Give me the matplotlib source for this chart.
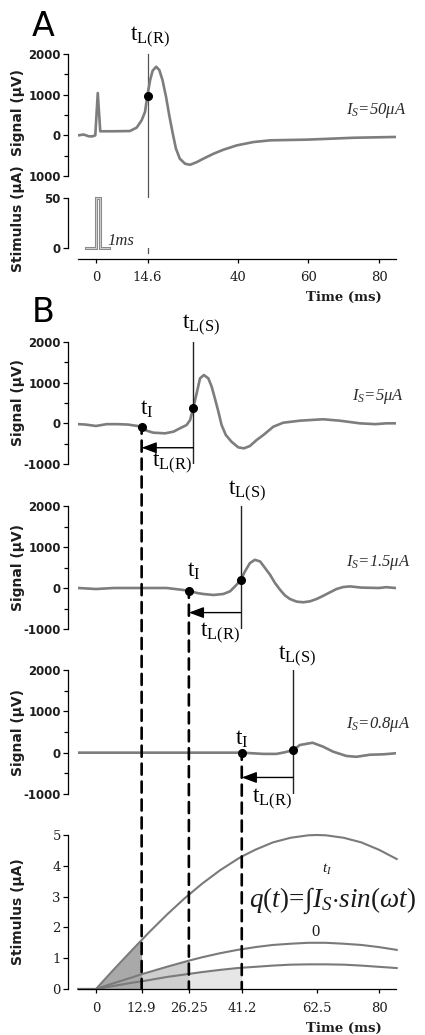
import matplotlib
matplotlib.use('Agg')
import matplotlib.pyplot as plt
from matplotlib.patches import ConnectionPatch
from matplotlib.transforms import blended_transform_factory
from matplotlib.ticker import MultipleLocator

plt.rcParams['mathtext.fontset'] = 'custom'
plt.rcParams['mathtext.rm'] = 'Liberation Serif'
plt.rcParams['mathtext.it'] = 'Liberation Serif:italic'
plt.rcParams['mathtext.bf'] = 'Liberation Serif:bold'

# ------------------------- data -------------------------
# Panel A : response to a 1 ms, 50 uA pulse
A_time = [-5, -3.5, -2, -1, -0.2, 0.5, 1.2, 5, 9.6, 11.5, 12.9, 13.85, 14.5, 15.3, 16, 17,
          17.9, 18.8, 19.8, 20.7, 21.7, 22.6, 23.7, 25.2, 26.6, 28.5, 30.3, 33.2, 36, 39.8,
          44.5, 49.2, 60, 72.7, 84.7]
A_signal = [0, 20, -25, -25, 0, 1040, 100, 100, 106, 190, 370, 575, 963, 1358, 1588, 1687,
            1605, 1358, 946, 494, 42, -329, -576, -700, -724, -658, -576, -453, -354, -247,
            -165, -123, -105, -60, -40]
A_stim_time = [-2.9, 0, 0, 1, 1, 3.7]
A_stim_val = [0, 0, 50, 50, 0, 0]
A_tLR = 14.6
A_dot_val = 963
A_xticks = [0, 14.6, 40, 60, 80]
A_xticklabels = ['0', '14.6', '40', '60', '80']
A_current = '50'

# Panel B : responses to sinusoidal stimuli
B1_time = [-5, -3, 0, 3, 6, 9, 12.9, 14.3, 16.2, 19.5, 21.9, 23.7, 25.6, 26.6, 27.5, 28.45,
           29.4, 30.5, 31.75, 32.7, 33.6, 34.6, 35.5, 36.7, 38.3, 40.2, 41.8, 43.5, 45.4,
           47.3, 50.1, 52.9, 57.6, 64.2, 68.9, 74.6, 79, 82, 84.7]
B1_signal = [-20, -30, -65, -20, -20, -30, -80, -180, -230, -246, -205, -123, -42, 81, 385, 737,
             1106, 1188, 1106, 900, 615, 285, -42, -288, -452, -590, -615, -558, -410,
             -288, -84, 15, 65, 100, 65, 0, -20, 0, 0]
B2_time = [-5, 0, 5, 10, 15, 20, 26.25, 28.5, 30.3, 33.2, 36, 37.9, 39.3, 40.85, 42.1, 43.5,
           44.9, 46.4, 47.8, 49.2, 50.6, 52, 53.4, 54.8, 56.7, 58.6, 60.5, 62.4, 64.3, 66.1,
           68, 69.9, 71.8, 75, 80, 82, 84.7]
B2_signal = [0, -25, 0, 0, 0, 0, -65, -121, -146, -170, -146, -81, 40, 186, 404, 607,
             687, 647, 485, 323, 121, -41, -180, -267, -332, -348, -325, -267, -187, -107,
             -24, 24, 39, 10, 0, 20, 0]
B3_time = [-5, 10, 20, 30, 41.2, 47.3, 51, 53.4, 55.8, 57.6, 61.2, 64.2, 67, 70.8, 73.6, 77.4, 81.2, 84.7]
B3_signal = [0, 0, 0, 0, 0, -30, -30, 10, 65, 185, 240, 145, 25, -80, -100, -50, -40, -15]
B_currents = ['5', '1.5', '0.8']
t_I = [12.9, 26.25, 41.2]
t_LS = [27.5, 40.85, 55.8]
dot_I_val = [-80, -65, 0]
dot_LS_val = [385, 186, 65]
arrow_level = -600

# Bottom : sinusoidal stimulus currents (uA)
stim_time = [-5, 0, 5, 10, 12.9, 15, 20, 25, 26.25, 30, 35, 40, 41.2, 45, 50, 55, 60,
             62.5, 65, 70, 75, 80, 85]
stim_5 = [0, 0, 0.63, 1.24, 1.59, 1.84, 2.41, 2.94, 3.06, 3.42, 3.85, 4.22, 4.30, 4.52,
          4.76, 4.91, 4.99, 5.0, 4.99, 4.91, 4.76, 4.52, 4.22]
stim_1p5 = [0, 0, 0.19, 0.37, 0.48, 0.55, 0.72, 0.88, 0.92, 1.03, 1.16, 1.27, 1.29, 1.36,
            1.43, 1.47, 1.5, 1.5, 1.5, 1.47, 1.43, 1.36, 1.27]
stim_0p8 = [0, 0, 0.10, 0.20, 0.25, 0.29, 0.39, 0.47, 0.49, 0.55, 0.62, 0.68, 0.69, 0.72,
            0.76, 0.79, 0.8, 0.8, 0.8, 0.79, 0.76, 0.72, 0.68]
S_xticks = [0, 12.9, 26.25, 41.2, 62.5, 80]
S_xticklabels = ['0', '12.9', '26.25', '41.2', '62.5', '80']

# ------------------------- layout -------------------------
W, H = 425, 1035
fig = plt.figure(figsize=(W / 100, H / 100), dpi=100)
XL = (-5.09, 84.8)
TRACE = '#7d7d7d'
TXT = '#1e1e1e'


def rect(x0, y0, x1, y1):
    return [x0 / W, 1 - y1 / H, (x1 - x0) / W, (y1 - y0) / H]


def ftext(x, y, s, **kw):
    return fig.text(x / W, 1 - y / H, s, **kw)


def style_left(ax, sans=True, minor=None):
    for s in ['top', 'right']:
        ax.spines[s].set_visible(False)
    ax.spines['left'].set_position(('outward', 7.2))
    ax.spines['left'].set_linewidth(0.9)
    ax.tick_params(axis='y', direction='out', length=3.6, width=0.9, pad=1.5,
                   labelsize=8.5 if sans else 9.5, labelcolor=TXT,
                   labelfontfamily='DejaVu Sans' if sans else 'DejaVu Serif')
    if sans:
        for lab in ax.get_yticklabels():
            lab.set_fontweight('bold')
    if minor:
        ax.yaxis.set_minor_locator(MultipleLocator(minor))
        ax.tick_params(axis='y', which='minor', direction='out', length=3.0, width=0.9)


def style_x(ax, ticks, labels):
    ax.spines['bottom'].set_linewidth(0.9)
    ax.set_xticks(ticks)
    ax.set_xticklabels(labels)
    ax.tick_params(axis='x', direction='out', length=3.0, width=0.9, pad=6,
                   labelsize=9.5, labelcolor=TXT, labelfontfamily='DejaVu Serif')


def hide_x(ax):
    ax.spines['bottom'].set_visible(False)
    ax.set_xticks([])


# ---------------- Panel A ----------------
axA = fig.add_axes(rect(78, 54, 396, 176))
axA.set_xlim(*XL)
axA.set_ylim(-1000, 2000)
axA.set_yticks([2000, 1000, 0, -1000])
axA.set_yticklabels(['2000', '1000', '0', '1000'])
style_left(axA, minor=500)
hide_x(axA)
axA.plot(A_time, A_signal, color=TRACE, lw=1.9, solid_joinstyle='round')
axA.plot([A_tLR], [A_dot_val], 'o', color='black', ms=5.5, zorder=5)

axAs = fig.add_axes(rect(78, 198, 396, 248))
axAs.set_xlim(*XL)
axAs.set_ylim(0, 50)
axAs.set_yticks([0, 50])
style_left(axAs)
axAs.spines['bottom'].set_position(('outward', 7.9))
style_x(axAs, A_xticks, A_xticklabels)
axAs.plot(A_stim_time, A_stim_val, color='#8a8a8a', lw=2.2, solid_joinstyle='miter', clip_on=False)
axAs.plot(A_stim_time, A_stim_val, color='#d0d0d0', lw=0.7, solid_joinstyle='miter', clip_on=False)

# vertical line t_L(R) in A (spans both sub-axes)
trA = blended_transform_factory(axA.transData, fig.transFigure)
axA.plot([A_tLR, A_tLR], [1 - 54 / H, 1 - 253 / H], transform=trA, color='#555555',
         lw=0.9, clip_on=False, zorder=1)

ftext(32, 36, 'A', fontsize=24, family='DejaVu Sans', va='baseline')
ftext(130, 41, r'$\mathrm{t}_{\mathrm{L(R)}}$', fontsize=17, va='baseline', ha='left')
ftext(406, 110, r'$I_S$=' + A_current + 'μA', fontsize=12, family='Liberation Serif',
      style='italic', ha='right', va='center', color='#2a2a2a')
ftext(107, 245, '1ms', fontsize=12, family='Liberation Serif', style='italic',
      va='baseline', color='#2a2a2a')
ftext(18, 112, 'Signal (μV)', rotation=90, fontsize=10, fontweight='bold',
      family='DejaVu Sans', ha='center', va='center', color=TXT)
ftext(18, 219, 'Stimulus (μA)', rotation=90, fontsize=10, fontweight='bold',
      family='DejaVu Sans', ha='center', va='center', color=TXT)
ftext(382, 297, 'Time (ms)', fontsize=9.5, fontweight='bold', family='DejaVu Serif',
      ha='right', va='center', color=TXT)

# ---------------- Panel B ----------------
B_rects = [(342, 464), (506, 629), (670, 794)]
B_time = [B1_time, B2_time, B3_time]
B_sig = [B1_signal, B2_signal, B3_signal]
# label placements (figure pixels): t_L(S), t_I, t_L(R), I_S
tLS_pos = [(182, 329), (228, 495), (278, 660)]
tI_pos = [(140, 415), (187, 577), (235, 745)]
tLR_pos = [(152, 467), (200, 637), (252, 803)]
IS_pos = [(404, 397), (410, 562), (410, 725)]

axS = fig.add_axes(rect(78, 835, 396, 989))

B_axes = []
for k in range(3):
    y0, y1 = B_rects[k]
    ax = fig.add_axes(rect(78, y0, 396, y1))
    ax.set_xlim(*XL)
    ax.set_ylim(-1000, 2000)
    ax.set_yticks([2000, 1000, 0, -1000])
    ax.set_yticklabels(['2000', '1000', '0', '-1000'])
    style_left(ax, minor=500)
    hide_x(ax)
    ax.patch.set_alpha(0)
    ax.plot(B_time[k], B_sig[k], color=TRACE, lw=1.9, solid_joinstyle='round')
    ax.plot([t_LS[k], t_LS[k]], [-1000, 2000], color='#222222', lw=1.0, zorder=3)
    ax.plot([t_I[k], t_LS[k]], [dot_I_val[k], dot_LS_val[k]], 'o', color='black',
            ms=5.5, zorder=6, ls='none')
    ax.annotate('', xy=(t_I[k], arrow_level), xytext=(t_LS[k], arrow_level),
                arrowprops=dict(arrowstyle='-|>,head_length=0.75,head_width=0.28',
                                color='black', lw=1.0, shrinkA=0, shrinkB=0,
                                mutation_scale=12), zorder=6)
    ftext(*tLS_pos[k], r'$\mathrm{t}_{\mathrm{L(S)}}$', fontsize=17, va='baseline', ha='left')
    ftext(*tI_pos[k], r'$\mathrm{t}_{\mathrm{I}}$', fontsize=17, va='baseline', ha='left')
    ftext(*tLR_pos[k], r'$\mathrm{t}_{\mathrm{L(R)}}$', fontsize=17, va='baseline', ha='left')
    ftext(*IS_pos[k], r'$I_S$=' + B_currents[k] + 'μA', fontsize=12, family='Liberation Serif',
          style='italic', ha='right', va='center', color='#2a2a2a')
    ftext(18, (y0 + y1) / 2, 'Signal (μV)', rotation=90, fontsize=10, fontweight='bold',
          family='DejaVu Sans', ha='center', va='center', color=TXT)
    B_axes.append(ax)

ftext(32, 322, 'B', fontsize=24, family='DejaVu Sans', va='baseline')

# ---------------- Bottom stimulus panel ----------------
axS.set_xlim(*XL)
axS.set_ylim(0, 5)
axS.set_yticks([0, 1, 2, 3, 4, 5])
style_left(axS, sans=False)
style_x(axS, S_xticks, S_xticklabels)
axS.fill_between(stim_time, stim_0p8, 0, where=[0 <= t <= t_I[2] for t in stim_time],
                 color='#e6e6e6', lw=0, zorder=1)
axS.fill_between(stim_time, stim_1p5, 0, where=[0 <= t <= t_I[1] for t in stim_time],
                 color='#cfcfcf', lw=0, zorder=1.1)
axS.fill_between(stim_time, stim_5, 0, where=[0 <= t <= t_I[0] for t in stim_time],
                 color='#a9a9a9', lw=0, zorder=1.2)
for vals in (stim_5, stim_1p5, stim_0p8):
    axS.plot(stim_time, vals, color='#7a7a7a', lw=1.5, zorder=2, clip_on=False)

ftext(18, 912, 'Stimulus (μA)', rotation=90, fontsize=10, fontweight='bold',
      family='DejaVu Sans', ha='center', va='center', color=TXT)
ftext(382, 1028, 'Time (ms)', fontsize=9.5, fontweight='bold', family='DejaVu Serif',
      ha='right', va='center', color=TXT)
ftext(249, 907, r'$q(t)\!=\!\int I_S{\cdot}sin(\omega t)$', fontsize=19.5, va='baseline',
      ha='left', color='#1a1a1a')
ftext(327, 869, r'$t_I$', fontsize=11, ha='center', va='center', color='#1a1a1a')
ftext(316, 932, '0', fontsize=12, family='Liberation Serif', ha='center', va='center',
      color='#1a1a1a')

# dashed connectors from t_I points down to the stimulus axis
for k in range(3):
    con = ConnectionPatch(xyA=(t_I[k], dot_I_val[k]), coordsA=B_axes[k].transData,
                          xyB=(t_I[k], 0), coordsB=axS.transData,
                          color='black', lw=1.9, linestyle=(1.5, (4.2, 2.6)), zorder=10)
    fig.add_artist(con)

fig.savefig('out.png', dpi=100)
